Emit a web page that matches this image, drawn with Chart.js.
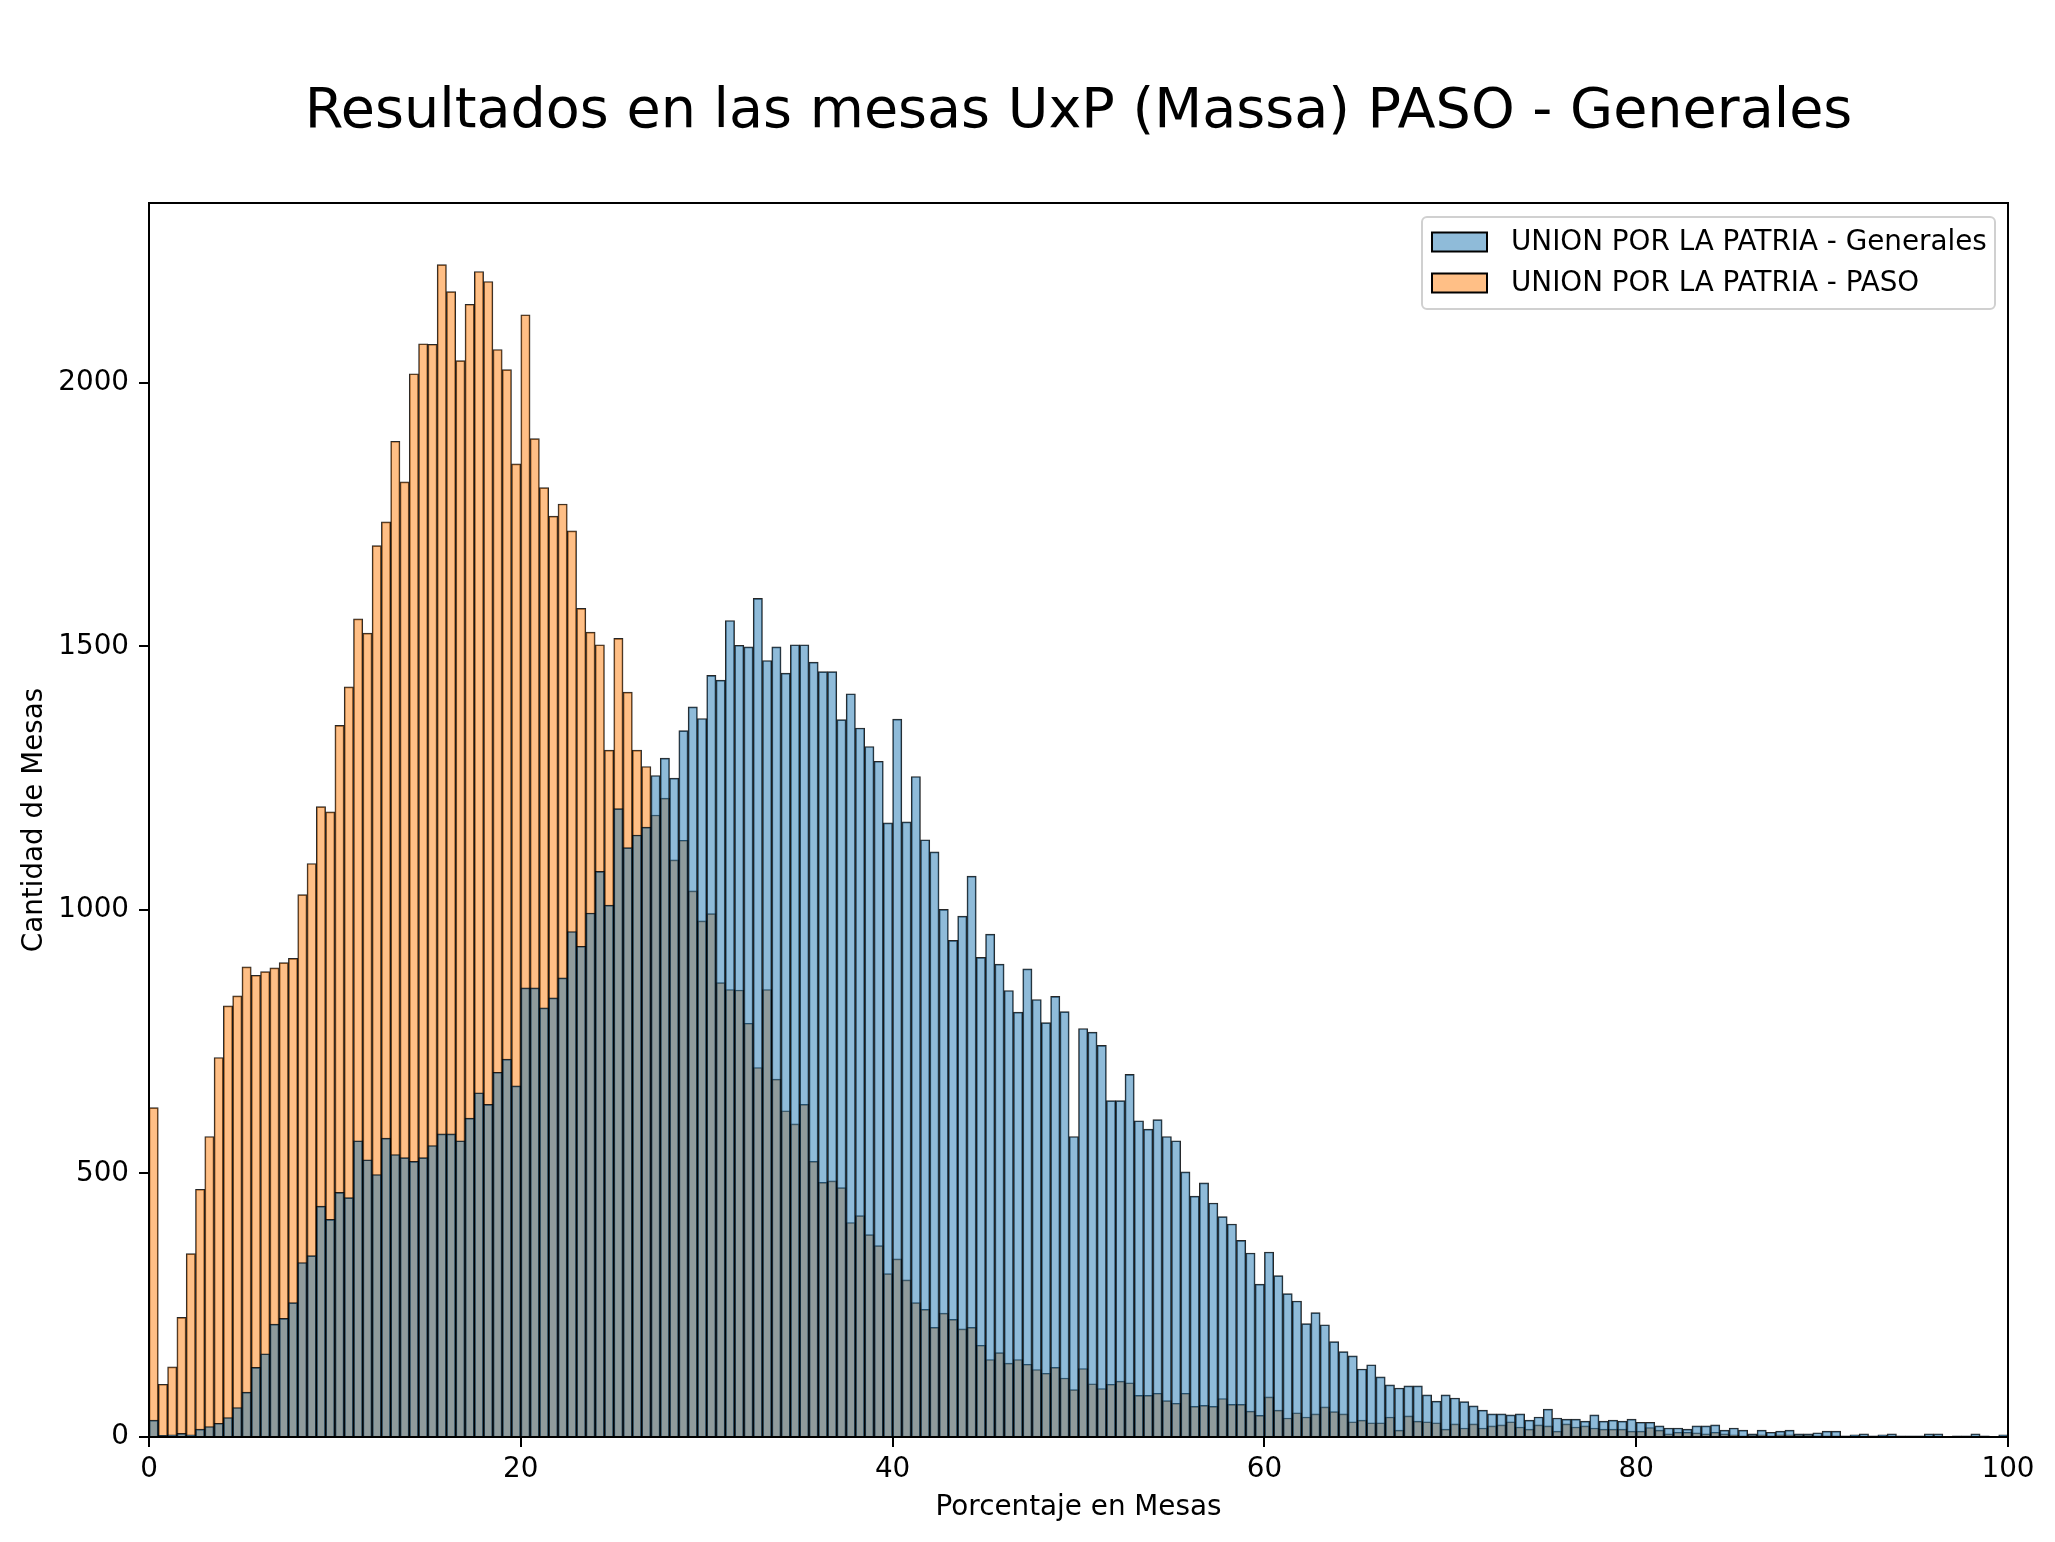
<!DOCTYPE html>
<html>
<head>
<meta charset="utf-8">
<script src="https://cdn.jsdelivr.net/npm/chart.js@4.4.1/dist/chart.umd.min.js"></script>
<style>
  body { margin: 0; background: #fff; }
  #wrap { width: 2055px; height: 1542px; }
</style>
</head>
<body>
<div id="wrap"><canvas id="myChart" width="2055" height="1542"></canvas></div>
<script>
// histogram bins: 0..100 in steps of 0.5 (200 bins)
const binWidth = 0.5;
const xTicks = [0, 20, 40, 60, 80, 100];
const yTicks = [0, 500, 1000, 1500, 2000];

const chartTitle = 'Resultados en las mesas UxP (Massa) PASO - Generales';
const seriesNames = ['UNION POR LA PATRIA - Generales', 'UNION POR LA PATRIA - PASO'];

// counts per bin
const generales = [
  32, 3, 4, 7, 4, 15, 20, 26, 37, 56,
  85, 132, 158, 214, 225, 255, 331, 344, 438, 413,
  464, 454, 562, 526, 498, 567, 536, 530, 523, 530,
  553, 575, 575, 562, 605, 653, 631, 692, 717, 666,
  852, 852, 814, 833, 871, 959, 931, 994, 1073, 1009,
  1192, 1118, 1142, 1157, 1255, 1288, 1250, 1340, 1385, 1363,
  1445, 1436, 1549, 1502, 1499, 1591, 1473, 1499, 1449, 1503,
  1503, 1470, 1452, 1452, 1361, 1410, 1345, 1310, 1282, 1165,
  1362, 1167, 1253, 1133, 1110, 1001, 942, 988, 1064, 910,
  954, 897, 847, 806, 888, 830, 786, 836, 807, 570,
  775, 768, 743, 638, 638, 688, 600, 584, 602, 570,
  562, 503, 457, 482, 444, 418, 404, 373, 349, 290,
  351, 306, 272, 258, 215, 236, 213, 181, 162, 154,
  129, 137, 114, 99, 93, 97, 97, 80, 68, 80,
  74, 67, 59, 51, 44, 44, 42, 44, 32, 38,
  53, 36, 34, 34, 30, 42, 30, 32, 30, 34,
  28, 28, 21, 17, 17, 15, 21, 21, 23, 13,
  17, 13, 6, 13, 9, 11, 13, 6, 6, 8,
  11, 11, 2, 4, 6, 2, 4, 6, 2, 2,
  2, 6, 6, 1, 2, 2, 6, 2, 1, 4
];

const paso = [
  625, 100, 133, 227, 348, 470, 570, 720, 818, 837,
  892, 876, 883, 890, 900, 908, 1029, 1088, 1196, 1186,
  1350, 1423, 1552, 1525, 1691, 1736, 1889, 1812, 2017, 2074,
  2073, 2224, 2173, 2042, 2149, 2211, 2192, 2063, 2025, 1846,
  2129, 1894, 1801, 1747, 1770, 1719, 1572, 1527, 1503, 1303,
  1515, 1413, 1303, 1272, 1180, 1212, 1095, 1132, 1036, 979,
  993, 862, 849, 848, 785, 701, 849, 679, 619, 594,
  631, 523, 483, 486, 473, 407, 420, 384, 363, 310,
  338, 298, 255, 242, 208, 235, 223, 205, 208, 174,
  147, 160, 140, 147, 138, 128, 121, 132, 112, 90,
  130, 101, 92, 100, 106, 103, 79, 79, 83, 69,
  64, 83, 58, 60, 58, 73, 62, 62, 49, 41,
  76, 51, 36, 46, 38, 44, 57, 48, 44, 29,
  32, 27, 27, 38, 13, 40, 30, 29, 27, 15,
  25, 17, 25, 17, 21, 23, 29, 19, 15, 23,
  21, 11, 25, 19, 21, 17, 15, 15, 15, 11,
  11, 18, 13, 6, 9, 9, 8, 6, 9, 6,
  4, 2, 4, 4, 2, 4, 4, 4, 4, 2,
  2, 2, 1, 1, 1, 1, 0, 1, 0, 0,
  0, 0, 0, 0, 0, 0, 0, 0, 0, 0
];

const blueFill = 'rgba(31, 119, 180, 0.5)';
const orangeFill = 'rgba(255, 127, 14, 0.5)';
const edge = 'rgba(0, 0, 0, 0.85)';
const FONT = "'DejaVu Sans', 'Liberation Sans', sans-serif";
const SMALL = 27.8;

const toPoints = arr => arr.map((v, i) => ({ x: i * binWidth + binWidth / 2, y: v }));

// title centred over the axes, frame around the plot, legend inside the axes
const frameAndLegend = {
  id: 'frameAndLegend',
  afterDraw(chart) {
    const { ctx, chartArea: a } = chart;
    ctx.save();
    ctx.fillStyle = '#000';
    ctx.font = '55.6px ' + FONT;
    ctx.textAlign = 'center';
    ctx.textBaseline = 'alphabetic';
    ctx.fillText(chartTitle, (a.left + a.right) / 2, 127);

    ctx.strokeStyle = '#000';
    ctx.lineWidth = 2;
    ctx.strokeRect(a.left, a.top, a.right - a.left, a.bottom - a.top);

    // legend box
    const bx = 1422, by = 217, bw = 573, bh = 92;
    ctx.beginPath();
    ctx.roundRect(bx, by, bw, bh, 5);
    ctx.fillStyle = 'rgba(255,255,255,0.8)';
    ctx.fill();
    ctx.strokeStyle = '#d0d0d0';
    ctx.lineWidth = 2;
    ctx.stroke();

    const fills = [blueFill, orangeFill];
    ctx.font = SMALL + 'px ' + FONT;
    ctx.textBaseline = 'middle';
    ctx.textAlign = 'left';
    seriesNames.forEach((name, i) => {
      const cy = 242 + i * 41;
      ctx.fillStyle = '#fff';
      ctx.fillRect(1432, cy - 9.5, 55, 19);
      ctx.fillStyle = fills[i];
      ctx.fillRect(1432, cy - 9.5, 55, 19);
      ctx.strokeStyle = '#000';
      ctx.lineWidth = 2;
      ctx.strokeRect(1432, cy - 9.5, 55, 19);
      ctx.fillStyle = '#000';
      ctx.fillText(name, 1511, cy + 1);
    });
    ctx.restore();
  }
};

const ctx = document.getElementById('myChart').getContext('2d');
const myChart = new Chart(ctx, {
  type: 'bar',
  data: {
    datasets: [
      {
        label: seriesNames[0],
        data: toPoints(generales),
        backgroundColor: blueFill,
        borderColor: edge,
        borderWidth: 1,
        barPercentage: 1,
        categoryPercentage: 1,
        grouped: false
      },
      {
        label: seriesNames[1],
        data: toPoints(paso),
        backgroundColor: orangeFill,
        borderColor: edge,
        borderWidth: 1,
        barPercentage: 1,
        categoryPercentage: 1,
        grouped: false
      }
    ]
  },
  options: {
    responsive: false,
    animation: false,
    devicePixelRatio: 1,
    layout: { padding: { top: 203, right: 47, bottom: 0, left: 0 } },
    plugins: {
      legend: { display: false },
      tooltip: { enabled: false },
      title: { display: false }
    },
    scales: {
      x: {
        type: 'linear',
        min: 0,
        max: 100,
        offset: false,
        afterFit: s => { s.height = 105; },
        afterBuildTicks: s => { s.ticks = xTicks.map(v => ({ value: v })); },
        grid: { offset: false, drawOnChartArea: false, drawTicks: true, tickLength: 10, color: '#000', lineWidth: 2 },
        border: { display: false },
        ticks: { color: '#000', font: { family: FONT, size: SMALL }, padding: 6, maxRotation: 0,
                 callback: v => String(v) },
        title: {
          display: true,
          text: 'Porcentaje en Mesas',
          color: '#000',
          font: { family: FONT, size: SMALL },
          padding: { top: 0, bottom: 18 }
        }
      },
      y: {
        min: 0,
        max: 2341,
        afterFit: s => { s.width = 149; },
        afterBuildTicks: s => { s.ticks = yTicks.map(v => ({ value: v })); },
        grid: { drawOnChartArea: false, drawTicks: true, tickLength: 10, color: '#000', lineWidth: 2 },
        border: { display: false },
        ticks: { color: '#000', font: { family: FONT, size: SMALL }, padding: 10,
                 callback: v => String(v) },
        title: {
          display: true,
          text: 'Cantidad de Mesas',
          color: '#000',
          font: { family: FONT, size: SMALL },
          padding: { top: 18, bottom: 0 }
        }
      }
    }
  },
  plugins: [frameAndLegend]
});
</script>
</body>
</html>
